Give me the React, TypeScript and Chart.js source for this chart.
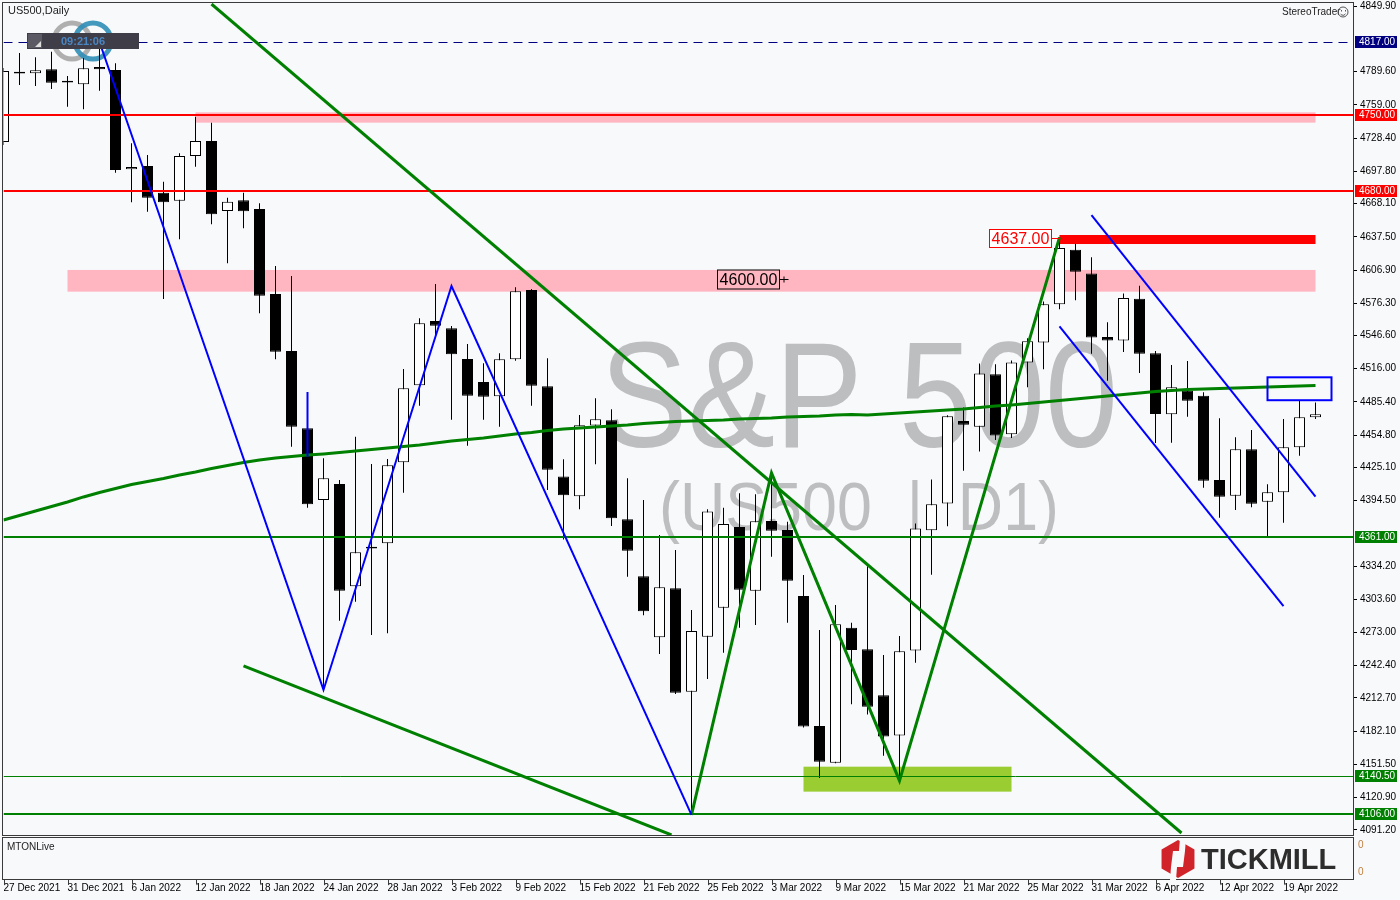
import React, { useEffect, useRef } from "react";
import { Chart, registerables } from "chart.js";
Chart.register(...registerables);

// ---------- data ----------
const opens = [4724.9, 4788.0, 4788.2, 4791.8, 4781.2, 4778.0, 4794.0, 4791.2, 4699.7, 4702.8, 4678.2, 4670.8, 4712.0, 4725.8, 4661.3, 4671.2, 4663.2, 4584.9, 4532.3, 4461.1, 4395.1, 4409.8, 4315.6, 4352.0, 4355.2, 4429.8, 4500.8, 4560.0, 4553.3, 4525.0, 4503.8, 4490.7, 4524.7, 4588.5, 4499.9, 4416.8, 4398.5, 4463.6, 4468.5, 4377.3, 4324.8, 4268.6, 4313.7, 4218.5, 4269.1, 4295.9, 4370.2, 4311.5, 4375.7, 4367.5, 4306.7, 4186.9, 4153.1, 4277.5, 4257.5, 4215.2, 4178.1, 4256.4, 4367.1, 4391.8, 4467.9, 4462.6, 4511.0, 4455.6, 4521.8, 4540.2, 4575.5, 4625.5, 4603.7, 4545.2, 4541.9, 4580.4, 4530.3, 4474.0, 4495.8, 4491.0, 4413.5, 4399.0, 4441.8, 4393.5, 4402.2, 4443.6, 4471.3];
const highs = [4793.0, 4806.9, 4802.9, 4808.1, 4785.7, 4802.3, 4817.0, 4797.4, 4723.7, 4712.9, 4688.3, 4714.5, 4748.2, 4742.7, 4673.6, 4678.2, 4668.4, 4610.7, 4601.4, 4491.8, 4433.5, 4413.5, 4453.3, 4428.3, 4432.9, 4515.8, 4562.5, 4594.1, 4555.4, 4538.8, 4521.0, 4530.2, 4591.0, 4589.5, 4525.6, 4432.6, 4473.4, 4488.8, 4478.6, 4415.1, 4395.1, 4362.8, 4349.0, 4293.7, 4386.5, 4388.0, 4401.2, 4400.3, 4419.7, 4375.1, 4326.0, 4275.4, 4298.4, 4282.1, 4334.0, 4252.2, 4269.8, 4373.4, 4414.0, 4473.2, 4480.3, 4520.8, 4520.1, 4523.6, 4544.1, 4577.9, 4637.0, 4631.2, 4618.8, 4558.9, 4585.3, 4592.4, 4532.4, 4519.4, 4523.1, 4494.3, 4470.3, 4452.9, 4459.6, 4409.5, 4469.7, 4487.2, 4484.8];
const lows = [4722.0, 4777.4, 4776.5, 4773.7, 4757.4, 4755.0, 4772.1, 4696.6, 4669.3, 4660.7, 4580.2, 4635.3, 4702.1, 4649.1, 4613.1, 4645.4, 4567.1, 4524.7, 4444.2, 4388.0, 4220.1, 4283.9, 4301.4, 4270.7, 4272.3, 4401.8, 4481.9, 4546.2, 4469.1, 4445.1, 4469.1, 4462.6, 4523.4, 4481.9, 4404.3, 4358.8, 4386.5, 4428.0, 4371.1, 4324.4, 4288.9, 4253.2, 4216.4, 4105.0, 4230.2, 4254.4, 4277.5, 4280.0, 4342.8, 4282.1, 4185.4, 4139.0, 4152.6, 4206.9, 4197.5, 4159.4, 4137.6, 4245.1, 4326.2, 4371.0, 4422.1, 4439.8, 4450.4, 4452.1, 4499.0, 4515.5, 4570.9, 4579.0, 4529.7, 4505.0, 4531.4, 4512.0, 4447.5, 4447.9, 4471.8, 4406.4, 4378.8, 4385.9, 4388.4, 4360.5, 4374.2, 4435.9, 4469.7];
const closes = [4790.3, 4789.5, 4790.9, 4779.5, 4779.8, 4792.8, 4791.8, 4699.1, 4701.9, 4673.6, 4669.3, 4712.0, 4725.8, 4658.3, 4669.9, 4661.0, 4583.3, 4531.7, 4462.6, 4391.1, 4415.1, 4311.5, 4346.9, 4350.5, 4427.1, 4498.0, 4557.9, 4555.7, 4529.3, 4491.2, 4490.3, 4524.7, 4587.4, 4500.4, 4423.0, 4399.4, 4463.9, 4469.4, 4378.2, 4348.4, 4292.6, 4314.6, 4217.6, 4274.4, 4384.5, 4373.0, 4312.4, 4375.5, 4366.8, 4320.8, 4186.3, 4154.0, 4280.6, 4256.9, 4204.6, 4177.1, 4255.7, 4368.8, 4391.1, 4472.2, 4464.5, 4511.6, 4454.5, 4521.8, 4541.3, 4575.5, 4627.3, 4605.4, 4544.8, 4541.9, 4581.1, 4529.7, 4474.3, 4498.9, 4486.6, 4412.9, 4398.1, 4441.8, 4391.7, 4402.2, 4443.6, 4471.3, 4474.0];
const ma200 = [4376.7, 4380.8, 4385.0, 4389.1, 4393.2, 4397.9, 4402.0, 4405.7, 4409.4, 4412.1, 4414.9, 4418.1, 4420.9, 4424.1, 4426.9, 4429.6, 4431.9, 4433.8, 4435.2, 4436.5, 4437.5, 4438.8, 4440.2, 4441.6, 4443.0, 4444.4, 4445.8, 4447.6, 4449.4, 4450.8, 4452.2, 4454.0, 4455.9, 4457.3, 4459.1, 4460.5, 4461.4, 4462.3, 4463.3, 4464.2, 4465.5, 4466.5, 4467.4, 4467.9, 4468.3, 4468.8, 4469.7, 4470.2, 4470.6, 4471.6, 4472.0, 4472.5, 4473.4, 4473.9, 4473.4, 4474.3, 4475.2, 4476.1, 4477.1, 4478.0, 4478.9, 4480.3, 4481.7, 4482.6, 4484.0, 4485.4, 4486.7, 4488.1, 4489.5, 4490.9, 4492.3, 4493.7, 4495.0, 4496.0, 4496.9, 4497.3, 4497.8, 4498.3, 4498.7, 4499.2, 4499.6, 4500.1, 4500.6];

const dateTickIndex = [0, 4, 8, 12, 16, 20, 24, 28, 32, 36, 40, 44, 48, 52, 56, 60, 64, 68, 72, 76, 80];
const dateLabels = ["27 Dec 2021", "31 Dec 2021", "6 Jan 2022", "12 Jan 2022", "18 Jan 2022", "24 Jan 2022", "28 Jan 2022", "3 Feb 2022", "9 Feb 2022", "15 Feb 2022", "21 Feb 2022", "25 Feb 2022", "3 Mar 2022", "9 Mar 2022", "15 Mar 2022", "21 Mar 2022", "25 Mar 2022", "31 Mar 2022", "6 Apr 2022", "12 Apr 2022", "19 Apr 2022"];
const priceTicks = [4849.9, 4789.6, 4759.0, 4728.4, 4697.8, 4668.1, 4637.5, 4606.9, 4576.3, 4546.6, 4516.0, 4485.4, 4454.8, 4425.1, 4394.5, 4334.2, 4303.6, 4273.0, 4242.4, 4212.7, 4182.1, 4151.5, 4120.9, 4091.2];

// horizontal levels: dashed high, two red resistances, three green supports
const highLevel = 4817;
const redLevels = [4750, 4680];
const greenLevels = [4361, 4140.5, 4106];

// drawn objects as [bar index, price]
const blueZigzag = [[6, 4817], [20, 4220.1], [28, 4592.2], [43, 4105]];
const blueMark = [[19, 4494.6], [19, 4435.0]];
const channelUpper = [[68, 4657.6], [82, 4398.1]];
const channelLower = [[66, 4555.0], [80, 4297.4]];
const greenTrendA = [[13, 4852.0], [73.625, 4088.3]];
const greenTrendB = [[15, 4242.2], [41.75, 4086.5]];
const greenZigzag = [[43, 4105], [48, 4420.0], [56, 4136.5], [66, 4637]];
// zones: [from index, to index, top price, bottom price]
const pinkZones = [[12, 82, 4752.2, 4742.7], [4, 82, 4607.0, 4587.0]];
const redZone = [66, 82, 4639.2, 4630.9];
const limeZone = [50, 63, 4149.4, 4126.4];
const blueBox = [79, 83, 4508.1, 4487.0];
const noteTop = [66, 4637];
const noteMid = [49, 4600];

const BG = "#f8f9fb";
const FONT = '"Liberation Sans", Arial, sans-serif';

const annotate = {
  id: "annotate",
  beforeDraw(chart: any) {
    const ctx = chart.ctx;
    ctx.save();
    ctx.fillStyle = BG;
    ctx.fillRect(0, 0, chart.width, chart.height);
    ctx.restore();
  },
  beforeDatasetsDraw(chart: any) {
    const ctx = chart.ctx;
    const X = (i: number) => chart.scales.x.getPixelForValue(i);
    const Y = (p: number) => chart.scales.y.getPixelForValue(p);
    const a = chart.chartArea;
    ctx.save();
    ctx.beginPath();
    ctx.rect(a.left, a.top, a.right - a.left, a.bottom - a.top);
    ctx.clip();
    const zone = (z: number[], color: string) => {
      ctx.fillStyle = color;
      const x1 = X(z[0]), x2 = X(z[1]), y1 = Y(z[2]), y2 = Y(z[3]);
      ctx.fillRect(x1, y1, x2 - x1, y2 - y1);
    };
    pinkZones.forEach((z) => zone(z, "#ffb6c1"));
    zone(redZone, "#ff0000");
    zone(limeZone, "#9acd32");
    // watermark
    ctx.fillStyle = "#bdbec0";
    ctx.textAlign = "center";
    ctx.textBaseline = "alphabetic";
    ctx.font = `150px ${FONT}`;
    ctx.fillText("S&P 500", 859, 447, 518);
    ctx.font = `68px ${FONT}`;
    ctx.fillText("(US500  |  D1)", 859, 530, 400);
    // clock logo rings
    ctx.lineWidth = 5;
    ctx.globalAlpha = 0.9;
    ctx.strokeStyle = "#a6a6a6";
    ctx.beginPath();
    ctx.arc(72, 41, 18, 0, Math.PI * 2);
    ctx.stroke();
    ctx.strokeStyle = "#2f8db6";
    ctx.beginPath();
    ctx.arc(93, 41, 18, 0, Math.PI * 2);
    ctx.stroke();
    ctx.restore();
  },
  afterDatasetsDraw(chart: any) {
    const ctx = chart.ctx;
    const X = (i: number) => chart.scales.x.getPixelForValue(i);
    const Y = (p: number) => chart.scales.y.getPixelForValue(p);
    const a = chart.chartArea;
    ctx.save();
    ctx.beginPath();
    ctx.rect(a.left, a.top, a.right - a.left, a.bottom - a.top);
    ctx.clip();
    const hline = (p: number, color: string, w: number, dash: number[] = []) => {
      const y = w % 2 === 1 ? Math.round(Y(p)) + 0.5 : Math.round(Y(p));
      ctx.beginPath();
      ctx.setLineDash(dash);
      ctx.strokeStyle = color;
      ctx.lineWidth = w;
      ctx.moveTo(a.left, y);
      ctx.lineTo(a.right, y);
      ctx.stroke();
      ctx.setLineDash([]);
    };
    hline(highLevel, "#000080", 1, [9, 6]);
    redLevels.forEach((p) => hline(p, "#ff0000", 2));
    hline(greenLevels[0], "#008000", 2);
    hline(greenLevels[1], "#008000", 1);
    hline(greenLevels[2], "#008000", 2);
    const poly = (pts: number[][], color: string, w: number) => {
      ctx.beginPath();
      pts.forEach(([i, p], k) => (k ? ctx.lineTo(X(i), Y(p)) : ctx.moveTo(X(i), Y(p))));
      ctx.strokeStyle = color;
      ctx.lineWidth = w;
      ctx.lineJoin = "miter";
      ctx.stroke();
    };
    poly(greenTrendA, "#008000", 3);
    poly(greenTrendB, "#008000", 3);
    poly(greenZigzag, "#008000", 3);
    poly(blueZigzag, "#0000ff", 2);
    poly(blueMark, "#0000ff", 2);
    poly(channelUpper, "#0000ff", 2);
    poly(channelLower, "#0000ff", 2);
    // blue box
    ctx.strokeStyle = "#0000ff";
    ctx.lineWidth = 2;
    {
      const x1 = X(blueBox[0]), x2 = X(blueBox[1]), y1 = Y(blueBox[2]), y2 = Y(blueBox[3]);
      ctx.strokeRect(x1, y1, x2 - x1, y2 - y1);
    }
    // 4637 note
    ctx.font = `16px ${FONT}`;
    ctx.textAlign = "center";
    ctx.textBaseline = "middle";
    {
      const ax = X(noteTop[0]), ay = Math.round(Y(noteTop[1])) + 1.5;
      const bw = 62, bh = 18, right = Math.round(ax) - 9 + 0.5;
      ctx.fillStyle = "#ffffff";
      ctx.fillRect(right - bw, ay - bh / 2, bw, bh);
      ctx.strokeStyle = "#ff0000";
      ctx.lineWidth = 1;
      ctx.strokeRect(right - bw, ay - bh / 2, bw, bh);
      ctx.beginPath();
      ctx.moveTo(right, ay);
      ctx.lineTo(ax, ay);
      ctx.stroke();
      ctx.fillStyle = "#ff0000";
      ctx.fillText(noteTop[1].toFixed(2), right - bw / 2, ay + 1);
    }
    {
      const ax = X(noteMid[0]), ay = Math.round(Y(noteMid[1])) + 1.5;
      const bw = 62, bh = 19, right = Math.round(ax) - 9 + 0.5;
      ctx.strokeStyle = "#000000";
      ctx.lineWidth = 1;
      ctx.strokeRect(right - bw, ay - bh / 2, bw, bh);
      ctx.beginPath();
      ctx.moveTo(right, ay);
      ctx.lineTo(ax + 1, ay);
      ctx.moveTo(ax - 3.5, ay - 3);
      ctx.lineTo(ax - 3.5, ay + 3);
      ctx.stroke();
      ctx.fillStyle = "#000000";
      ctx.fillText(noteMid[1].toFixed(2), right - bw / 2, ay + 1);
    }
    ctx.restore();
  },
  afterDraw(chart: any) {
    const ctx = chart.ctx;
    const X = (i: number) => chart.scales.x.getPixelForValue(i);
    const Y = (p: number) => chart.scales.y.getPixelForValue(p);
    ctx.save();
    // frames
    ctx.strokeStyle = "#3a3a3a";
    ctx.lineWidth = 1;
    ctx.strokeRect(2.5, 2.5, 1351, 833);
    ctx.strokeRect(2.5, 837.5, 1351, 42);
    // date tick marks
    ctx.beginPath();
    dateTickIndex.forEach((i) => {
      const x = Math.round(X(i)) + 0.5;
      ctx.moveTo(x, 880);
      ctx.lineTo(x, 884);
    });
    ctx.stroke();
    // axis level labels
    ctx.font = `10px ${FONT}`;
    ctx.textAlign = "left";
    ctx.textBaseline = "middle";
    const tag = (p: number, bg: string) => {
      const y = Math.round(Y(p));
      ctx.fillStyle = bg;
      ctx.fillRect(1355, y - 6, 42, 12);
      ctx.fillStyle = "#ffffff";
      ctx.fillText(p.toFixed(2), 1359, y + 0.5);
    };
    tag(highLevel, "#000080");
    redLevels.forEach((p) => tag(p, "#ff0000"));
    greenLevels.forEach((p) => tag(p, "#008000"));
    // header texts
    ctx.fillStyle = "#222222";
    ctx.font = `11px ${FONT}`;
    ctx.fillText("US500,Daily", 8, 11);
    ctx.font = `10px ${FONT}`;
    ctx.fillText("StereoTrader", 1282, 12);
    ctx.strokeStyle = "#555555";
    ctx.beginPath();
    ctx.arc(1343, 12, 5, 0, Math.PI * 2);
    ctx.stroke();
    ctx.beginPath();
    ctx.arc(1343, 12.5, 2.8, 0.15 * Math.PI, 0.85 * Math.PI);
    ctx.stroke();
    ctx.fillStyle = "#555555";
    ctx.fillRect(1341, 10, 1, 1.5);
    ctx.fillRect(1345, 10, 1, 1.5);
    // lower pane
    ctx.fillStyle = "#222222";
    ctx.fillText("MTONLive", 7, 847);
    ctx.fillStyle = "#c08040";
    ctx.fillText("0", 1358, 845);
    ctx.fillText("0", 1358, 872);
    // clock box
    ctx.fillStyle = "#3f3e48";
    ctx.fillRect(27, 33, 112, 16);
    ctx.fillStyle = "#5a5964";
    ctx.fillRect(28, 34, 14, 14);
    ctx.fillStyle = "#dddddd";
    ctx.beginPath();
    ctx.moveTo(41, 47);
    ctx.lineTo(41, 41);
    ctx.lineTo(35, 47);
    ctx.closePath();
    ctx.fill();
    ctx.fillStyle = "#4a86c4";
    ctx.font = `bold 11px ${FONT}`;
    ctx.textAlign = "center";
    ctx.fillText("09:21:06", 83, 41.5);
    // Tickmill logo
    const cx = 1178, cy = 859, r = 19;
    ctx.fillStyle = "#d1232a";
    ctx.beginPath();
    for (let k = 0; k < 6; k++) {
      const ang = -Math.PI / 2 + (k * Math.PI) / 3;
      const px = cx + r * Math.cos(ang), py = cy + r * Math.sin(ang);
      k ? ctx.lineTo(px, py) : ctx.moveTo(px, py);
    }
    ctx.closePath();
    ctx.fill();
    ctx.fillStyle = BG;
    ctx.beginPath();
    ctx.moveTo(cx - 5, cy - 8);
    ctx.lineTo(cx + 7, cy - 8);
    ctx.lineTo(cx + 5, cy + 8);
    ctx.lineTo(cx - 7, cy + 8);
    ctx.closePath();
    ctx.fill();
    ctx.beginPath();
    ctx.moveTo(cx + 2, cy - 21);
    ctx.lineTo(cx + 8, cy - 21);
    ctx.lineTo(cx + 7, cy - 8);
    ctx.lineTo(cx + 1, cy - 8);
    ctx.closePath();
    ctx.fill();
    ctx.beginPath();
    ctx.moveTo(cx - 2, cy + 21);
    ctx.lineTo(cx - 8, cy + 21);
    ctx.lineTo(cx - 7, cy + 8);
    ctx.lineTo(cx - 1, cy + 8);
    ctx.closePath();
    ctx.fill();
    ctx.fillStyle = "#2d2d2d";
    ctx.font = `bold 29px ${FONT}`;
    ctx.textAlign = "left";
    ctx.textBaseline = "alphabetic";
    ctx.fillText("TICKMILL", 1201, 869, 141);
    ctx.restore();
  },
};

export default function App() {
  const ref = useRef<HTMLCanvasElement | null>(null);
  useEffect(() => {
    const idx = opens.map((_, i) => i);
    const bodyColors = idx.map((i) => (closes[i] >= opens[i] ? "#ffffff" : "#000000"));
    const chart = new Chart(ref.current as HTMLCanvasElement, {
      type: "bar",
      data: {
        datasets: [
          {
            type: "line",
            label: "MA",
            data: idx.map((i) => ({ x: i, y: ma200[i] })),
            borderColor: "#008000",
            borderWidth: 3,
            pointRadius: 0,
            tension: 0,
            order: 0,
          } as any,
          {
            label: "body",
            data: idx.map((i) => ({ x: i, y: [opens[i], closes[i]] })),
            backgroundColor: bodyColors,
            borderColor: "#000000",
            borderWidth: 1,
            borderSkipped: false,
            barThickness: 11,
            grouped: false,
            inflateAmount: 0,
            order: 1,
          } as any,
          {
            label: "wick",
            data: idx.map((i) => ({ x: i, y: [lows[i], highs[i]] })),
            backgroundColor: "#000000",
            borderWidth: 0,
            barThickness: 1,
            grouped: false,
            inflateAmount: 0,
            order: 2,
          } as any,
        ],
      },
      options: {
        responsive: false,
        animation: false,
        events: [],
        layout: { padding: { left: 3.5, top: 3, right: 0, bottom: 0 } },
        plugins: { legend: { display: false }, tooltip: { enabled: false } },
        scales: {
          x: {
            type: "linear",
            min: 0,
            max: (1353 - 3.5) / 16,
            offset: false,
            grid: { display: false, drawTicks: false },
            border: { display: false },
            afterBuildTicks: (s: any) => {
              s.ticks = dateTickIndex.map((v) => ({ value: v }));
            },
            afterFit: (s: any) => {
              s.height = 65;
              s.paddingLeft = 0;
              s.paddingRight = 0;
            },
            ticks: {
              autoSkip: false,
              maxRotation: 0,
              minRotation: 0,
              align: "start",
              padding: 47,
              color: "#000000",
              font: { family: FONT, size: 10 },
              callback: (v: any) => {
                const k = dateTickIndex.indexOf(Number(v));
                return k >= 0 ? dateLabels[k] : "";
              },
            },
          },
          y: {
            type: "linear",
            position: "right",
            min: 4817 - 793 / 1.0855,
            max: 4817 + 39 / 1.0855,
            beginAtZero: false,
            grid: { drawOnChartArea: false, drawTicks: true, tickLength: 4, color: "#000000" },
            border: { display: false },
            afterBuildTicks: (s: any) => {
              s.ticks = priceTicks.map((v) => ({ value: v }));
            },
            afterFit: (s: any) => {
              s.width = 47;
              s.paddingTop = 0;
              s.paddingBottom = 0;
            },
            ticks: {
              autoSkip: false,
              padding: 3,
              color: "#000000",
              font: { family: FONT, size: 10 },
              callback: (v: any) => Number(v).toFixed(2),
            },
          },
        },
      } as any,
      plugins: [annotate],
    });
    return () => chart.destroy();
  }, []);
  return (
    <div style={{ position: "absolute", left: 0, top: 0, width: 1400, height: 900, background: BG }}>
      <canvas ref={ref} width={1400} height={900} style={{ display: "block", width: 1400, height: 900 }} />
    </div>
  );
}
